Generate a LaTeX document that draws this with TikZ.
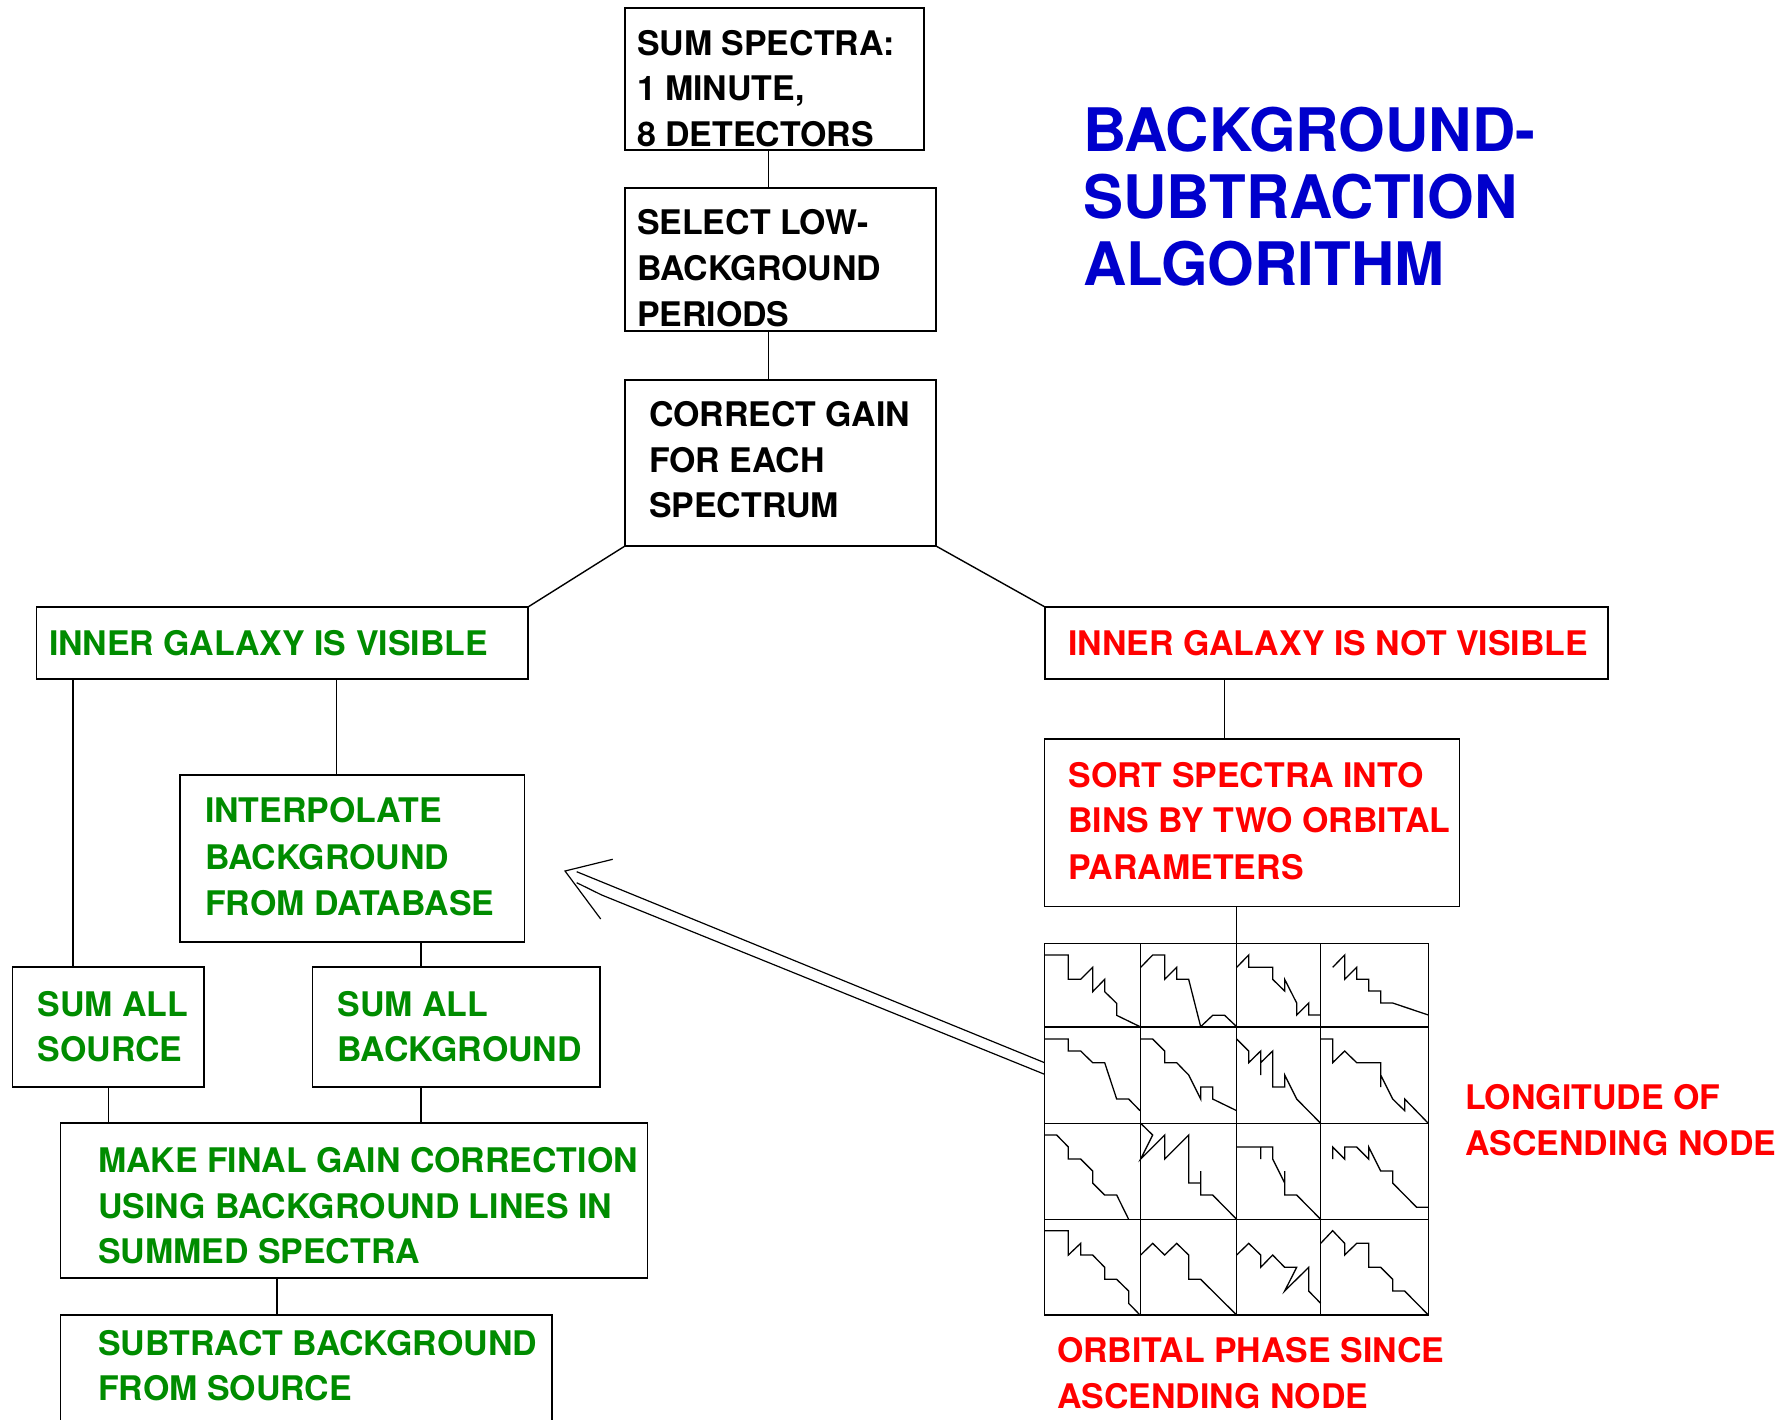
\documentclass[tikz,border=0pt]{standalone}
\usepackage{fontspec}
\setmainfont{TeX Gyre Heros}
\usetikzlibrary{calc}
\definecolor{tgreen}{RGB}{0,140,0}
\definecolor{tred}{RGB}{255,0,0}
\definecolor{tblue}{RGB}{0,0,204}
\begin{document}
\begin{tikzpicture}[x=1pt,y=-1pt,
  box/.style={draw=black, line width=1.4pt, rectangle, inner sep=0pt, outer sep=0pt, anchor=north west},
  txt/.style={anchor=base west, inner sep=0pt, outer sep=0pt, font=\fontsize{33.9}{40}\selectfont\bfseries},
  gtxt/.style={txt, text=tgreen},
  rtxt/.style={txt, text=tred},
  ttl/.style={anchor=base west, inner sep=0pt, outer sep=0pt, text=tblue, font=\fontsize{60}{67}\selectfont\bfseries},
  conn/.style={draw=black, line width=1.4pt},
  arr/.style={draw=black, line width=1.2pt},
  spec/.style={draw=black, line width=1.3pt, line join=miter}]
\path[use as bounding box] (0,0) rectangle (1788,1419);
\clip (0,0) rectangle (1788,1419);
\fill[white] (0,0) rectangle (1788,1419);

% ---------- boxes ----------
\node[box, minimum width=299pt, minimum height=142pt] (b1) at (625,8) {};
\node[box, minimum width=311pt, minimum height=143pt] (b2) at (625,188) {};
\node[box, minimum width=311pt, minimum height=166pt] (b3) at (625,380) {};
\node[box, minimum width=491.5pt, minimum height=72pt] (gv) at (36.5,607) {};
\node[box, minimum width=563pt, minimum height=72pt] (rv) at (1045,607) {};
\node[box, minimum width=344.5pt, minimum height=167pt] (ip) at (180,775) {};
\node[box, minimum width=191.5pt, minimum height=120pt] (ss) at (12.5,967) {};
\node[box, minimum width=287.6pt, minimum height=120pt] (sb) at (312.4,967) {};
\node[box, minimum width=587.3pt, minimum height=155pt] (mf) at (60.4,1123) {};
\node[box, minimum width=491.5pt, minimum height=150pt] (sub) at (60.4,1315) {};
\node[box, minimum width=415pt, minimum height=167.5pt] (sort) at (1044.5,739) {};
\node[box, minimum width=383.67pt, minimum height=371.67pt] (grid) at (1044.67,943.33) {};

% ---------- texts ----------
\node[txt] (b1a) at (637,55) {SUM SPECTRA:};
\node[txt] (b1b) at (637,100.5) {1 MINUTE,};
\node[txt] (b1c) at (637,146) {8 DETECTORS};
\node[txt] (b2a) at (637,234) {SELECT LOW-};
\node[txt] (b2b) at (637,280) {BACKGROUND};
\node[txt] (b2c) at (637,326) {PERIODS};
\node[txt] (b3a) at (649,426.5) {CORRECT GAIN};
\node[txt] (b3b) at (649,472) {FOR EACH};
\node[txt] (b3c) at (649,517.5) {SPECTRUM};
\node[gtxt] (gva) at (49,655) {INNER GALAXY IS VISIBLE};
\node[rtxt] (rva) at (1068.5,655) {INNER GALAXY IS NOT VISIBLE};
\node[gtxt] (ipa) at (205,822.7) {INTERPOLATE};
\node[gtxt] (ipb) at (205,869) {BACKGROUND};
\node[gtxt] (ipc) at (205,915) {FROM DATABASE};
\node[gtxt] (ssa) at (37.6,1016) {SUM ALL};
\node[gtxt] (ssb) at (37.6,1061.6) {SOURCE};
\node[gtxt] (sba) at (337.5,1016) {SUM ALL};
\node[gtxt] (sbb) at (337.5,1061.6) {BACKGROUND};
\node[gtxt] (mfa) at (98,1172) {MAKE FINAL GAIN CORRECTION};
\node[gtxt] (mfb) at (98,1218) {USING BACKGROUND LINES IN};
\node[gtxt] (mfc) at (98,1263.5) {SUMMED SPECTRA};
\node[gtxt] (suba) at (98,1355) {SUBTRACT BACKGROUND};
\node[gtxt] (subb) at (98,1400) {FROM SOURCE};
\node[rtxt] (sorta) at (1068.5,787) {SORT SPECTRA INTO};
\node[rtxt] (sortb) at (1068.5,832.5) {BINS BY TWO ORBITAL};
\node[rtxt] (sortc) at (1068.5,879) {PARAMETERS};
\node[ttl] (ta) at (1083,151) {BACKGROUND-};
\node[ttl] (tb) at (1083,218) {SUBTRACTION};
\node[ttl] (tc) at (1083,285) {ALGORITHM};
\node[rtxt] (la) at (1465,1109.5) {LONGITUDE OF};
\node[rtxt] (lb) at (1465,1155) {ASCENDING NODE};
\node[rtxt] (oa) at (1057,1362) {ORBITAL PHASE SINCE};
\node[rtxt] (ob) at (1057,1408) {ASCENDING NODE};

% ---------- connectors ----------
\coordinate (xa) at (768.5,0);
\coordinate (xgs) at (73,0);
\coordinate (xgi) at (336.7,0);
\coordinate (xib) at (420.8,0);
\coordinate (xsm) at (108.3,0);
\coordinate (xms) at (277,0);
\coordinate (xrs) at (1224.7,0);
\draw[conn] (b1.south -| xa) -- (b2.north -| xa);
\draw[conn] (b2.south -| xa) -- (b3.north -| xa);
\draw[conn] (b3.south west) -- (gv.north east);
\draw[conn] (b3.south east) -- (rv.north west);
\draw[conn] (gv.south -| xgs) -- (ss.north -| xgs);
\draw[conn] (gv.south -| xgi) -- (ip.north -| xgi);
\draw[conn] (ip.south -| xib) -- (sb.north -| xib);
\draw[conn] (ss.south -| xsm) -- (mf.north -| xsm);
\draw[conn] (sb.south -| xib) -- (mf.north -| xib);
\draw[conn] (mf.south -| xms) -- (sub.north -| xms);
\draw[conn] (rv.south -| xrs) -- (sort.north -| xrs);
\draw[conn] (sort.south -| grid.north) -- (grid.north);

% ---------- double arrow ----------
\coordinate (tip) at (565,871);
\draw[arr] ($(grid.north west)+(0,119.4)$) -- ($(tip)+(11.7,0.7)$);
\draw[arr] ($(grid.north west)+(0,131)$) -- ($(tip)+(36.7,24)$) -- ($(tip)+(11.7,11.7)$);
\draw[arr] ($(tip)+(47.7,-11.7)$) -- (tip) -- ($(tip)+(35.7,48)$);

% ---------- grid of spectra ----------
\begin{scope}[shift={(1040,935)}, scale=0.33333]
\foreach \c in {302,590,842} \draw[spec] (\c,25) -- (\c,1140);
\foreach \r in {276,565,853} \draw[spec] (14,\r) -- (1165,\r);
\draw[spec] (14,60) -- (85,60) -- (85,133) -- (122,133) -- (158,97) -- (158,170) -- (194,133) -- (194,170) -- (230,205) -- (230,241) -- (300,275);
\draw[spec] (302,97) -- (338,60) -- (374,60) -- (374,133) -- (410,97) -- (410,133) -- (446,133) -- (482,275) -- (518,241) -- (554,241) -- (590,275);
\draw[spec] (590,97) -- (626,60) -- (626,97) -- (698,97) -- (698,133) -- (734,168) -- (734,133) -- (770,204) -- (770,240) -- (806,204) -- (806,240) -- (842,240);
\draw[spec] (878,97) -- (914,60) -- (914,133) -- (950,97) -- (950,133) -- (986,133) -- (986,168) -- (1022,168) -- (1022,204) -- (1058,204) -- (1165,240);
\draw[spec] (14,312) -- (85,312) -- (85,348) -- (122,348) -- (158,383) -- (194,383) -- (230,492) -- (266,492) -- (300,527);
\draw[spec] (302,312) -- (338,312) -- (374,348) -- (374,383) -- (410,383) -- (446,420) -- (482,492) -- (482,456) -- (518,456) -- (518,492) -- (590,527);
\draw[spec] (590,312) -- (626,348) -- (626,383) -- (662,348) -- (662,420) -- (662,383) -- (698,348) -- (698,456) -- (734,456) -- (734,420) -- (770,492) -- (842,565);
\draw[spec] (842,312) -- (878,312) -- (878,383) -- (914,348) -- (950,383) -- (1022,383) -- (1022,456) -- (1022,420) -- (1058,492) -- (1094,527) -- (1094,492) -- (1165,565);
\draw[spec] (14,600) -- (50,600) -- (85,636) -- (85,672) -- (122,672) -- (158,708) -- (158,744) -- (194,780) -- (230,780) -- (266,853);
\draw[spec] (302,565) -- (338,600) -- (302,672) -- (374,600) -- (374,672) -- (446,600) -- (446,744) -- (482,744) -- (482,708) -- (482,780) -- (518,780) -- (590,853);
\draw[spec] (590,636) -- (662,636) -- (662,672) -- (662,636) -- (698,636) -- (698,672) -- (734,744) -- (734,708) -- (734,780) -- (770,780) -- (842,853);
\draw[spec] (878,672) -- (878,636) -- (914,672) -- (914,636) -- (950,636) -- (986,672) -- (986,636) -- (1022,708) -- (1058,708) -- (1058,744) -- (1130,817) -- (1165,817);
\draw[spec] (14,887) -- (85,887) -- (85,960) -- (122,925) -- (122,960) -- (158,960) -- (194,997) -- (194,1033) -- (230,1033) -- (266,1068) -- (266,1105) -- (300,1140);
\draw[spec] (302,960) -- (338,925) -- (374,960) -- (410,925) -- (446,960) -- (446,1033) -- (482,1033) -- (590,1140);
\draw[spec] (590,960) -- (626,925) -- (662,960) -- (662,997) -- (698,960) -- (734,997) -- (770,997) -- (734,1068) -- (806,997) -- (806,1068) -- (842,1105);
\draw[spec] (842,925) -- (878,887) -- (914,925) -- (914,960) -- (950,925) -- (986,925) -- (986,997) -- (1022,997) -- (1058,1033) -- (1058,1068) -- (1094,1068) -- (1165,1140);
\end{scope}
\end{tikzpicture}
\end{document}
